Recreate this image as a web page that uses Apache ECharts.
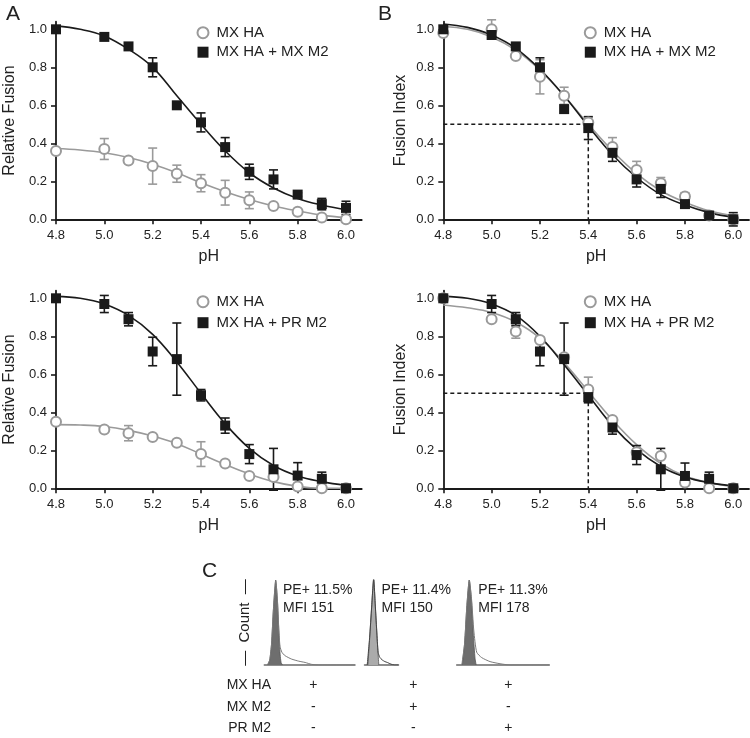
<!DOCTYPE html>
<html>
<head>
<meta charset="utf-8">
<script src="https://cdn.jsdelivr.net/npm/echarts@6/dist/echarts.min.js"></script>
<style>
  html, body { margin: 0; padding: 0; background: #fff; }
  #chart { width: 750px; height: 738px; }
</style>
</head>
<body>
<div id="chart"></div>
<script>
// pH 点
var pH = [4.8, 5.0, 5.1, 5.2, 5.3, 5.4, 5.5, 5.6, 5.7, 5.8, 5.9, 6.0];
var fitPH = [4.8, 4.9, 5.0, 5.1, 5.2, 5.3, 5.4, 5.5, 5.6, 5.7, 5.8, 5.9, 6.0];
var pHTicks = [4.8, 5.0, 5.2, 5.4, 5.6, 5.8, 6.0];
var yTicks = [0, 0.2, 0.4, 0.6, 0.8, 1.0];

// A: relative fusion, MX M2
var relMxHA = [0.36, 0.37, 0.31, 0.28, 0.24, 0.19, 0.14, 0.10, 0.07, 0.04, 0.01, 0.00];
var relMxHAErr = [0, 0.055, 0, 0.095, 0.045, 0.045, 0.065, 0.044, 0, 0.015, 0, 0];
var relMxM2 = [1.0, 0.96, 0.91, 0.80, 0.60, 0.51, 0.38, 0.25, 0.21, 0.13, 0.08, 0.06];
var relMxM2Err = [0, 0.01, 0, 0.05, 0, 0.05, 0.05, 0.04, 0.05, 0.01, 0.03, 0.035];
var relMxHAFit = [0.373, 0.365, 0.35, 0.325, 0.29, 0.245, 0.192, 0.145, 0.104, 0.07, 0.044, 0.022, 0.009];
var relMxM2Fit = [1.018, 1.0, 0.965, 0.895, 0.80, 0.65, 0.50, 0.36, 0.245, 0.165, 0.11, 0.075, 0.05];

// B: fusion index, MX M2
var fiMxHA = [0.98, 1.00, 0.86, 0.75, 0.65, 0.51, 0.38, 0.26, 0.19, 0.12, 0.02, 0.00];
var fiMxHAErr = [0, 0.05, 0, 0.09, 0.045, 0.03, 0.05, 0.045, 0.03, 0.02, 0, 0];
var fiMxM2 = [1.0, 0.97, 0.91, 0.80, 0.58, 0.48, 0.35, 0.21, 0.16, 0.08, 0.02, 0.0];
var fiMxM2Err = [0, 0.01, 0, 0.05, 0, 0.06, 0.045, 0.04, 0.045, 0.01, 0.01, 0.035];
var fiMxHAFit = [1.015, 1.0, 0.96, 0.89, 0.785, 0.65, 0.50, 0.36, 0.24, 0.15, 0.09, 0.045, 0.02];
var fiMxM2Fit = [1.028, 1.01, 0.97, 0.90, 0.79, 0.65, 0.49, 0.34, 0.22, 0.13, 0.075, 0.035, 0.01];

// 下左: relative fusion, PR M2
var relMxHA2 = [0.35, 0.31, 0.29, 0.27, 0.24, 0.18, 0.13, 0.065, 0.06, 0.01, 0.0, 0.0];
var relMxHA2Err = [0, 0, 0.04, 0, 0, 0.065, 0, 0, 0, 0, 0, 0];
var relPrM2 = [1.0, 0.97, 0.89, 0.72, 0.68, 0.49, 0.33, 0.18, 0.10, 0.067, 0.05, 0.0];
var relPrM2Err = [0, 0.045, 0.035, 0.075, 0.19, 0.03, 0.04, 0.05, 0.11, 0.068, 0.035, 0];
var relMxHA2Fit = [0.335, 0.333, 0.325, 0.305, 0.275, 0.235, 0.18, 0.125, 0.075, 0.035, 0.01, 0.0, 0.0];
var relPrM2Fit = [1.01, 1.0, 0.97, 0.91, 0.81, 0.665, 0.50, 0.34, 0.21, 0.12, 0.065, 0.035, 0.015];

// 下右: fusion index, PR M2
var fiMxHA2 = [1.0, 0.89, 0.825, 0.78, 0.69, 0.52, 0.36, 0.19, 0.17, 0.03, 0.0, 0.0];
var fiMxHA2Err = [0, 0, 0.035, 0, 0, 0.065, 0, 0, 0, 0, 0, 0];
var fiPrM2 = [1.0, 0.97, 0.89, 0.72, 0.68, 0.48, 0.32, 0.175, 0.10, 0.065, 0.05, 0.0];
var fiPrM2Err = [0, 0.045, 0.035, 0.075, 0.19, 0.03, 0.035, 0.05, 0.11, 0.068, 0.035, 0];
var fiMxHA2Fit = [0.965, 0.95, 0.925, 0.875, 0.79, 0.66, 0.51, 0.36, 0.23, 0.13, 0.065, 0.03, 0.01];
var fiPrM2Fit = [1.01, 1.0, 0.97, 0.91, 0.80, 0.65, 0.49, 0.33, 0.205, 0.115, 0.06, 0.03, 0.012];

// EC50 虚线
var halfPH = 5.4;
var halfLevel = 0.5;

// C: 流式直方图 (x: channel 0-100, y: count 0-100)
var hist1Ctrl = [[3.7, 0], [6, 6], [8, 25], [10, 65], [12.6, 100], [14.5, 75], [16, 40], [17.5, 12], [18.5, 3], [20, 0]];
var hist1Stain = [[3.5, 0], [6, 6], [8, 25], [10, 64], [12.6, 99], [14.5, 76], [16, 42], [17.3, 22], [19.4, 15], [22.8, 11], [30, 7], [38, 4.5], [45, 3], [52, 0.8], [60, 0], [100, 0]];
var hist2Ctrl = [[10, 0], [15, 30], [20, 62], [27, 100], [32, 68], [37, 33], [42, 0]];
var hist2Stain = [[8, 0], [15, 32], [21, 68], [27, 102], [31, 76], [36, 40], [40, 15], [45, 9], [52, 6], [60, 4], [67, 3], [78, 1], [88, 0], [100, 0]];
var hist3Ctrl = [[6, 0], [8.5, 25], [11, 70], [13.6, 100], [16, 75], [18, 35], [19.8, 8], [21, 0]];
var hist3Stain = [[5.5, 0], [8.5, 25], [11, 70], [13.6, 100], [16, 78], [18.5, 40], [21.6, 15], [27, 8.7], [36, 4], [46.8, 1.5], [57.6, 0], [100, 0]];
var peLabels = ['PE+ 11.5%', 'PE+ 11.4%', 'PE+ 11.3%'];
var mfiLabels = ['MFI 151', 'MFI 150', 'MFI 178'];
var rowLabels = ['MX HA', 'MX M2', 'PR M2'];
var signs = [['+', '+', '+'], ['-', '+', '-'], ['-', '-', '+']];

var FONT = 'Liberation Sans, Arial, sans-serif';
var BLACK = '#1a1a1a';
var GRAY = '#9a9a9a';

var myChart = echarts.init(document.getElementById('chart'), null, { renderer: 'canvas' });

function pairs(xs, ys) {
    return xs.map(function (x, i) { return [x, ys[i]]; });
}
function bars(xs, ys, es) {
    var out = [];
    for (var i = 0; i < xs.length; i++) {
        if (es[i] > 0) out.push([xs[i], ys[i] - es[i], ys[i] + es[i]]);
    }
    return out;
}
function errorSeries(idx, data, color) {
    return {
        type: 'custom',
        xAxisIndex: idx, yAxisIndex: idx,
        data: data,
        encode: { x: 0, y: [1, 2] },
        silent: true,
        z: 3,
        renderItem: function (params, api) {
            var x = api.value(0);
            var lo = api.coord([x, api.value(1)]);
            var hi = api.coord([x, api.value(2)]);
            var w = 4.5;
            var st = { stroke: color, lineWidth: 1.6 };
            return {
                type: 'group',
                children: [
                    { type: 'line', shape: { x1: lo[0], y1: lo[1], x2: hi[0], y2: hi[1] }, style: st },
                    { type: 'line', shape: { x1: hi[0] - w, y1: hi[1], x2: hi[0] + w, y2: hi[1] }, style: st },
                    { type: 'line', shape: { x1: lo[0] - w, y1: lo[1], x2: lo[0] + w, y2: lo[1] }, style: st }
                ]
            };
        }
    };
}

var panels = [
    { left: 56, top: 21.7, yName: 'Relative Fusion', nameGap: 38, blackName: 'MX HA + MX M2',
      gray: relMxHA, grayErr: relMxHAErr, black: relMxM2, blackErr: relMxM2Err, grayFit: relMxHAFit, blackFit: relMxM2Fit, dashed: false },
    { left: 443.3, top: 21.7, yName: 'Fusion Index', nameGap: 35, blackName: 'MX HA + MX M2',
      gray: fiMxHA, grayErr: fiMxHAErr, black: fiMxM2, blackErr: fiMxM2Err, grayFit: fiMxHAFit, blackFit: fiMxM2Fit, dashed: true },
    { left: 56, top: 290.7, yName: 'Relative Fusion', nameGap: 38, blackName: 'MX HA + PR M2',
      gray: relMxHA2, grayErr: relMxHA2Err, black: relPrM2, blackErr: relPrM2Err, grayFit: relMxHA2Fit, blackFit: relPrM2Fit, dashed: false },
    { left: 443.3, top: 290.7, yName: 'Fusion Index', nameGap: 35, blackName: 'MX HA + PR M2',
      gray: fiMxHA2, grayErr: fiMxHA2Err, black: fiPrM2, blackErr: fiPrM2Err, grayFit: fiMxHA2Fit, blackFit: fiPrM2Fit, dashed: true }
];

var grid = [], xAxis = [], yAxis = [], series = [], legend = [];

panels.forEach(function (p, i) {
    grid.push({ left: p.left, top: p.top, width: 305.7, height: 197.6 });
    xAxis.push({
        gridIndex: i, type: 'value', min: 4.8, max: 6.065,
        name: 'pH', nameLocation: 'middle', nameGap: 29,
        nameTextStyle: { fontFamily: FONT, fontSize: 16, color: '#222' },
        axisLine: { onZero: false, lineStyle: { color: BLACK, width: 1.8 } },
        axisTick: { customValues: pHTicks, length: 5, lineStyle: { color: BLACK, width: 1.6 } },
        axisLabel: { customValues: pHTicks, margin: 10, fontFamily: FONT, fontSize: 13, color: '#222',
            formatter: function (v) { return v.toFixed(1); } },
        splitLine: { show: false }
    });
    yAxis.push({
        gridIndex: i, type: 'value', min: 0, max: 1.04,
        name: p.yName, nameLocation: 'middle', nameGap: p.nameGap,
        nameTextStyle: { fontFamily: FONT, fontSize: 16, color: '#222' },
        axisLine: { show: true, onZero: false, lineStyle: { color: BLACK, width: 1.8 } },
        axisTick: { show: true, customValues: yTicks, length: 5, lineStyle: { color: BLACK, width: 1.6 } },
        axisLabel: { customValues: yTicks, margin: 9, fontFamily: FONT, fontSize: 13, color: '#222',
            formatter: function (v) { return v.toFixed(1); } },
        splitLine: { show: false }
    });

    series.push({
        name: 'fit-gray-' + i, type: 'line', xAxisIndex: i, yAxisIndex: i,
        data: pairs(fitPH, p.grayFit), smooth: 0.4, showSymbol: false, silent: true,
        lineStyle: { color: GRAY, width: 1.6 }, z: 2
    });
    series.push({
        name: 'fit-black-' + i, type: 'line', xAxisIndex: i, yAxisIndex: i,
        data: pairs(fitPH, p.blackFit), smooth: 0.4, showSymbol: false, silent: true,
        lineStyle: { color: BLACK, width: 1.6 }, z: 2
    });
    if (p.dashed) {
        series.push({
            name: 'half-' + i, type: 'line', xAxisIndex: i, yAxisIndex: i,
            data: [[4.8, halfLevel], [halfPH, halfLevel], [halfPH, 0]],
            showSymbol: false, silent: true,
            lineStyle: { color: BLACK, width: 1.5, type: [4, 3] }, z: 2
        });
    }
    series.push(errorSeries(i, bars(pH, p.gray, p.grayErr), GRAY));
    series.push(errorSeries(i, bars(pH, p.black, p.blackErr), BLACK));
    series.push({
        name: 'MX HA', type: 'scatter', xAxisIndex: i, yAxisIndex: i,
        data: pairs(pH, p.gray), symbol: 'circle', symbolSize: 10,
        itemStyle: { color: '#fff', borderColor: GRAY, borderWidth: 2, opacity: 1 }, z: 4
    });
    series.push({
        name: p.blackName, type: 'scatter', xAxisIndex: i, yAxisIndex: i,
        data: pairs(pH, p.black), symbol: 'rect', symbolSize: 10,
        itemStyle: { color: BLACK, opacity: 1 }, z: 5
    });

    legend.push({
        orient: 'vertical', left: p.left + 140.5, top: p.top + 3, padding: 0,
        itemWidth: 11, itemHeight: 11, itemGap: i < 2 ? 3.5 : 5,
        selectedMode: false,
        textStyle: { fontFamily: FONT, fontSize: 15, color: '#222', lineHeight: 16, padding: [0, 0, 0, 3] },
        data: [
            { name: 'MX HA', icon: 'circle', itemStyle: { color: '#fff', borderColor: GRAY, borderWidth: 2 } },
            { name: p.blackName, icon: 'rect', itemStyle: { color: BLACK } }
        ]
    });
});

// C 直方图
var hists = [
    { left: 264.3, width: 90.7, ctrl: hist1Ctrl, stain: hist1Stain, fill: '#6e6e6e', line: '#7a7a7a' },
    { left: 364.5, width: 34, ctrl: hist2Ctrl, stain: hist2Stain, fill: '#ababab', line: '#444' },
    { left: 456.7, width: 92.6, ctrl: hist3Ctrl, stain: hist3Stain, fill: '#6e6e6e', line: '#7a7a7a' }
];
hists.forEach(function (h, k) {
    var gi = 4 + k;
    grid.push({ left: h.left, top: 580, width: h.width, height: 85 });
    xAxis.push({
        gridIndex: gi, type: 'value', min: 0, max: 100,
        axisLine: { onZero: false, lineStyle: { color: '#6a6a6a', width: 1.5 } },
        axisTick: { show: false }, axisLabel: { show: false }, splitLine: { show: false }
    });
    yAxis.push({
        gridIndex: gi, type: 'value', min: 0, max: 100,
        name: k === 0 ? '—  Count  —' : '', nameLocation: 'middle', nameGap: 12,
        nameTextStyle: { fontFamily: FONT, fontSize: 15, color: '#222' },
        axisLine: { show: false }, axisTick: { show: false }, axisLabel: { show: false }, splitLine: { show: false }
    });
    series.push({
        type: 'line', xAxisIndex: gi, yAxisIndex: gi, data: h.ctrl, smooth: 0.2,
        showSymbol: false, silent: true,
        lineStyle: { color: '#555', width: 0.8 },
        areaStyle: { color: h.fill, opacity: 1 }, z: 2
    });
    series.push({
        type: 'line', xAxisIndex: gi, yAxisIndex: gi, data: h.stain, smooth: 0.2,
        showSymbol: false, silent: true,
        lineStyle: { color: h.line, width: 1 }, z: 3
    });
});

// 文字: 面板字母, PE+/MFI, 表格
var graphic = [];
var letters = [['A', 6, 4], ['B', 378, 4], ['C', 202, 561]];
letters.forEach(function (l) {
    graphic.push({ type: 'text', left: l[1], top: l[2],
        style: { text: l[0], font: '21px ' + FONT, fill: '#222' } });
});
var peX = [283, 381.5, 478.3];
peX.forEach(function (x, k) {
    graphic.push({ type: 'text', x: x, y: 590, style: { text: peLabels[k], font: '14px ' + FONT, fill: '#222', verticalAlign: 'middle' } });
    graphic.push({ type: 'text', x: x, y: 608.5, style: { text: mfiLabels[k], font: '14px ' + FONT, fill: '#222', verticalAlign: 'middle' } });
});
var rowY = [685, 707, 728];
var colX = [313.3, 413.3, 508.3];
rowLabels.forEach(function (r, j) {
    graphic.push({ type: 'text', x: 271, y: rowY[j], style: { text: r, font: '14px ' + FONT, fill: '#222', align: 'right', verticalAlign: 'middle' } });
    colX.forEach(function (x, k) {
        graphic.push({ type: 'text', x: x, y: rowY[j], style: { text: signs[j][k], font: '14px ' + FONT, fill: '#222', align: 'center', verticalAlign: 'middle' } });
    });
});

var option = {
    backgroundColor: '#fff',
    animation: false,
    textStyle: { fontFamily: FONT },
    grid: grid,
    xAxis: xAxis,
    yAxis: yAxis,
    legend: legend,
    series: series,
    graphic: graphic
};

myChart.setOption(option);
</script>
</body>
</html>
